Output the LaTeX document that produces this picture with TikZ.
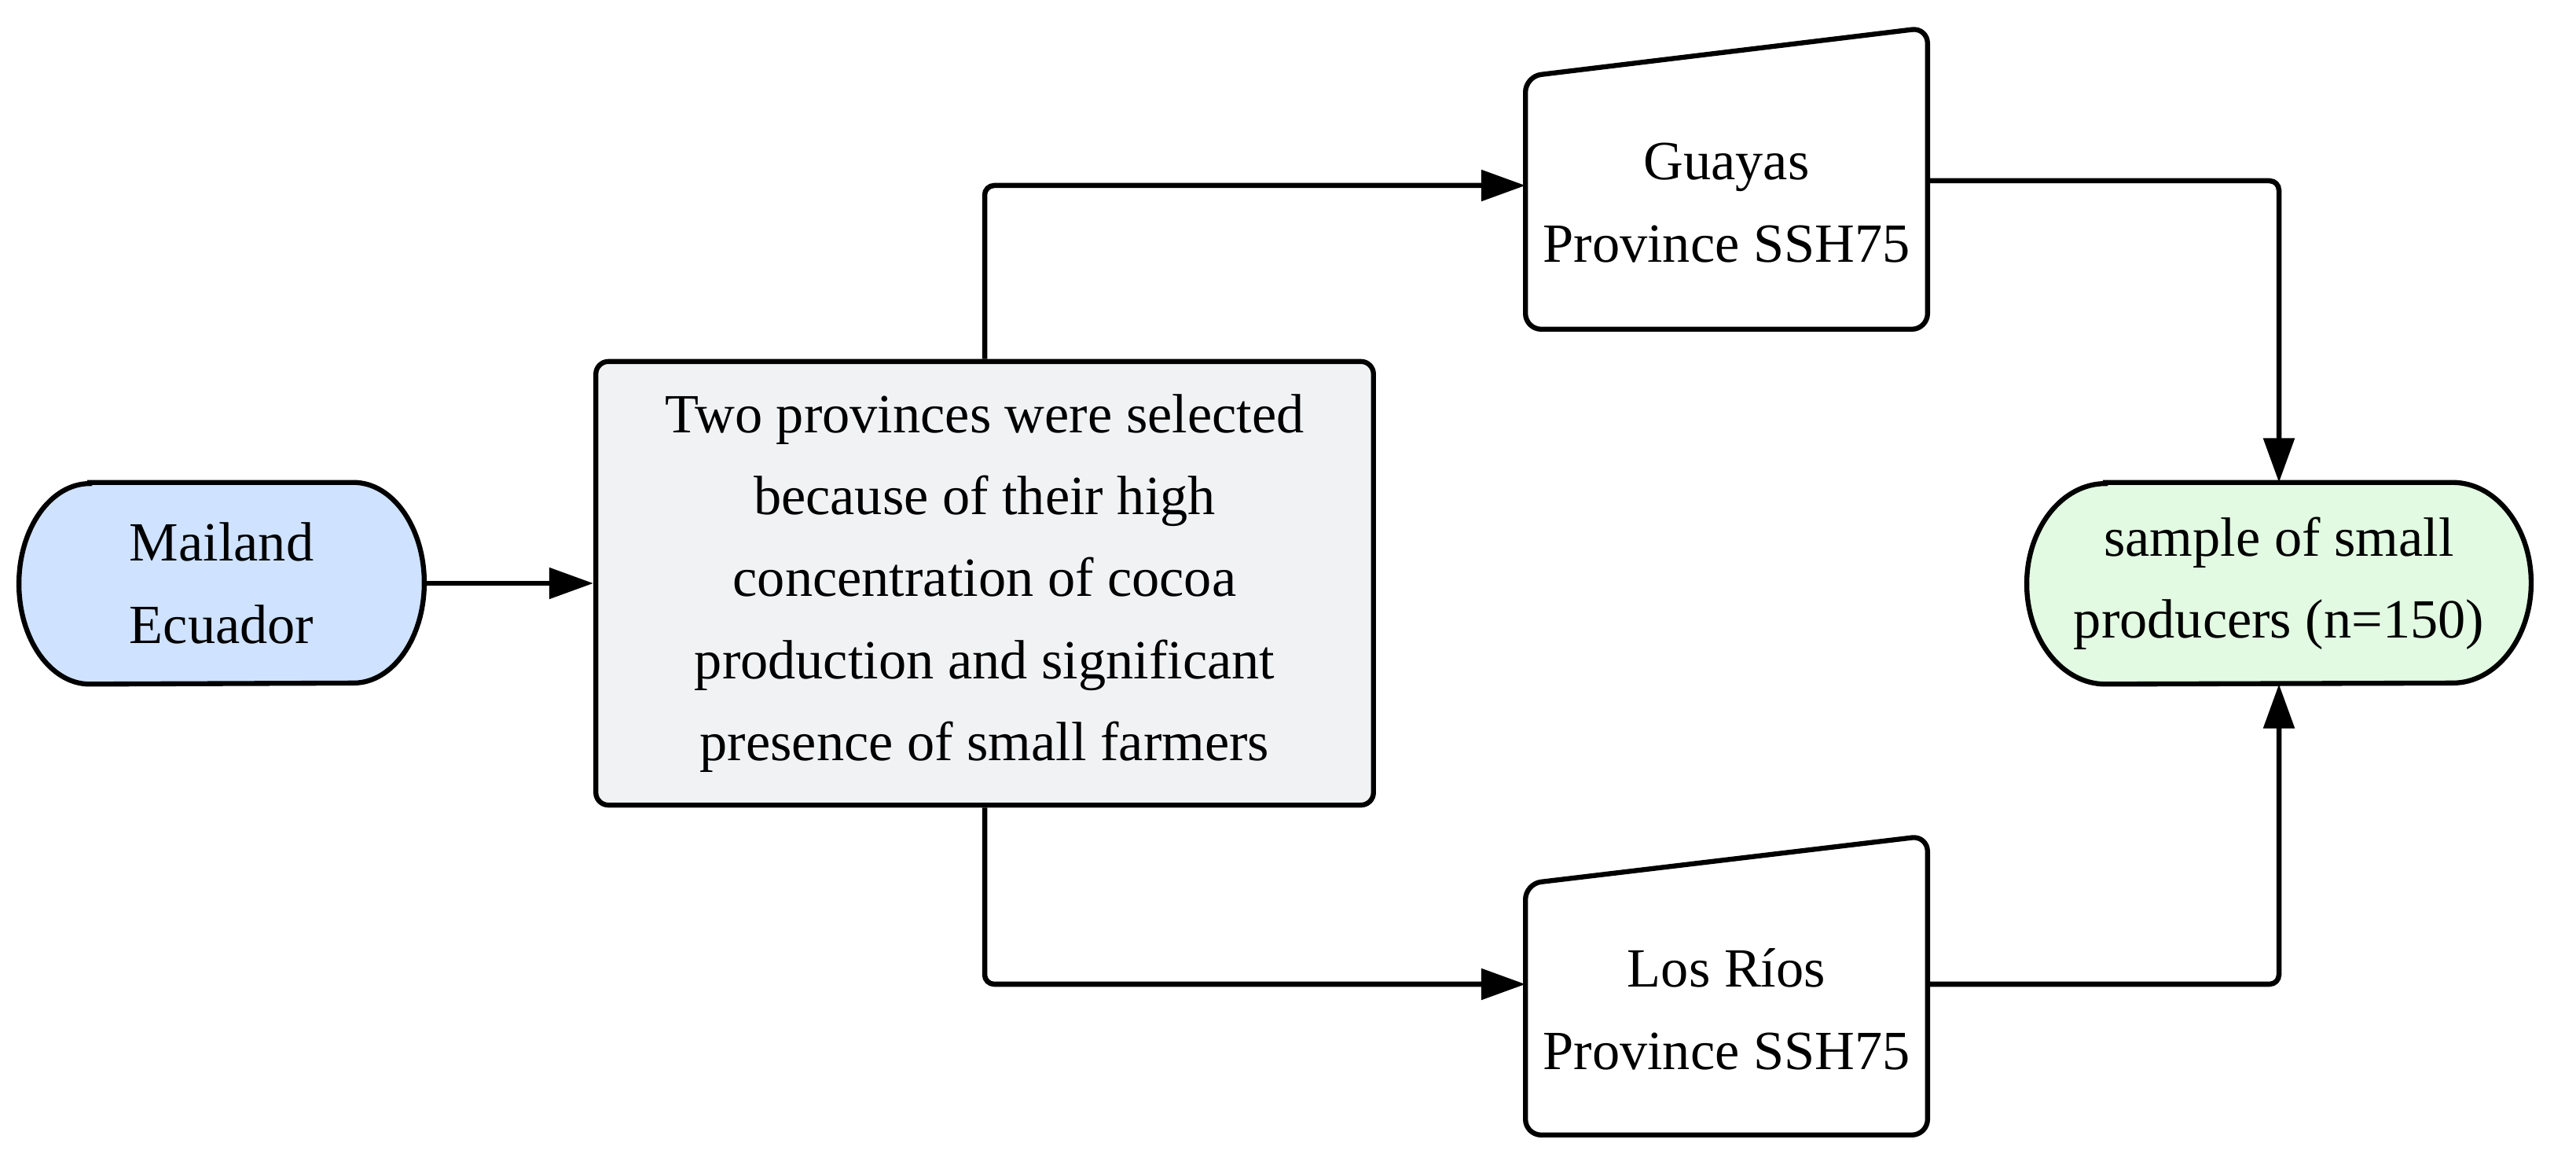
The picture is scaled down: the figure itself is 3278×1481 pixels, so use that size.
\documentclass[tikz,border=0pt]{standalone}
\usepackage{fontspec}
\setmainfont{Liberation Serif}
\usetikzlibrary{arrows.meta,calc,backgrounds}
\definecolor{blueF}{HTML}{CFE2FF}
\definecolor{greenF}{HTML}{E2F9E2}
\definecolor{grayF}{HTML}{F1F2F4}
\begin{document}
\begin{tikzpicture}[x=0.01cm,y=-0.01cm,
  txt/.style={font=\fontsize{20pt}{29.7pt}\selectfont, align=center, inner sep=0pt},
  shapeline/.style={line width=1.8pt},
  conn/.style={line width=1.85pt, rounded corners=0.12cm, -{Triangle[length=16pt,width=11pt]}},
]
\useasboundingbox (0,0) rectangle (3278,1481);

% nodes
\node[txt, minimum width=5.14cm, minimum height=2.55cm] (m) at (282,742) {Mailand\\Ecuador};
\node[txt, draw, shapeline, fill=grayF, rounded corners=0.16cm, minimum width=9.89cm, minimum height=5.64cm] (c) at (1253,742)
  {Two provinces were selected\\because of their high\\concentration of cocoa\\production and significant\\presence of small farmers};
\node[txt, minimum width=5.10cm, minimum height=3.20cm] (g) at (2197,258) {Guayas\\Province SSH75};
\node[txt, minimum width=5.10cm, minimum height=3.18cm] (l) at (2197,1284) {Los Ríos\\Province SSH75};
\node[txt, minimum width=6.40cm, minimum height=2.55cm] (s) at (2900,742) {sample of small\\producers (n=150)};

\begin{scope}[on background layer]
\draw[shapeline, fill=blueF] ($(m.north west)+(90,0)$) -- ($(m.north east)+(-90,0)$)
  arc[start angle=90, end angle=-90, x radius=0.9cm, y radius=1.275cm]
  -- ($(m.south west)+(90,0)$)
  arc[start angle=270, end angle=90, x radius=0.9cm, y radius=1.275cm] -- cycle;
\draw[shapeline, fill=greenF] ($(s.north west)+(100,0)$) -- ($(s.north east)+(-100,0)$)
  arc[start angle=90, end angle=-90, x radius=1.0cm, y radius=1.275cm]
  -- ($(s.south west)+(100,0)$)
  arc[start angle=270, end angle=90, x radius=1.0cm, y radius=1.275cm] -- cycle;
\draw[shapeline, fill=white, rounded corners=0.2cm] ($(g.south west)!0.5!(g.south east)$) -- (g.south west) -- (g.north west)
  -- ($(g.north east)+(0,-62)$) -- (g.south east) -- cycle;
\draw[shapeline, fill=white, rounded corners=0.2cm] ($(l.south west)!0.5!(l.south east)$) -- (l.south west) -- (l.north west)
  -- ($(l.north east)+(0,-61)$) -- (l.south east) -- cycle;
\end{scope}

% connectors
\draw[conn] (m.east) -- (c.west);
\draw[conn] (c.north) |- ([yshift=0.22cm]g.west);
\draw[conn] (c.south) |- ([yshift=0.32cm]l.west);
\draw[conn] ([yshift=0.28cm]g.east) -| (s.north);
\draw[conn] ([yshift=0.32cm]l.east) -| (s.south);
\end{tikzpicture}
\end{document}
